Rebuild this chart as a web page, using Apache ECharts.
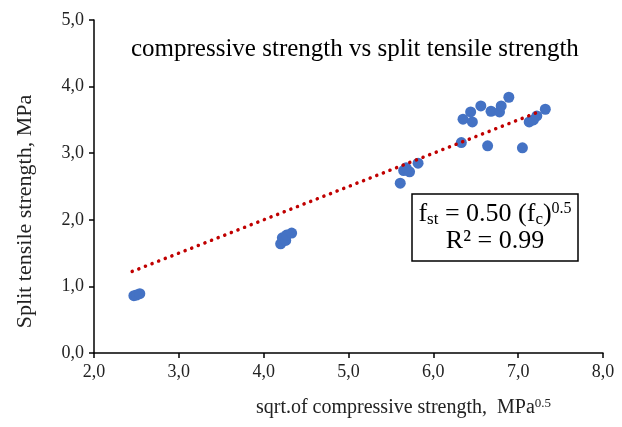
<!DOCTYPE html>
<html>
<head>
<meta charset="utf-8">
<script src="https://cdn.jsdelivr.net/npm/echarts@6/dist/echarts.min.js"></script>
<style>
  html, body { margin: 0; padding: 0; background: #fff; }
  #chart { width: 622px; height: 427px; }
</style>
</head>
<body>
<div id="chart"></div>
<script>
// sqrt of compressive strength (MPa^0.5) and split tensile strength (MPa)
const sqrtFc = [
  2.47, 2.50, 2.54,
  4.20, 4.22, 4.26, 4.27, 4.33,
  5.61, 5.65, 5.68, 5.72, 5.82,
  6.33, 6.35, 6.44, 6.46, 6.56, 6.64, 6.68, 6.78, 6.80, 6.89,
  7.05, 7.13, 7.18, 7.22, 7.32
];
const fst = [
  0.86, 0.87, 0.89,
  1.64, 1.73, 1.69, 1.77, 1.80,
  2.55, 2.74, 2.78, 2.72, 2.85,
  3.16, 3.51, 3.62, 3.47, 3.71, 3.11, 3.63, 3.62, 3.71, 3.84,
  3.08, 3.47, 3.50, 3.56, 3.66
];
// trend line fst = 0.50 * sqrt(fc)
const trendX = [2.45, 7.25];
const trendK = 0.50;

const serif = "'Liberation Serif', 'DejaVu Serif', serif";
const comma = v => v.toFixed(1).replace('.', ',');

const chart = echarts.init(document.getElementById('chart'), null, { renderer: 'canvas' });

chart.setOption({
  animation: false,
  title: {
    text: 'compressive strength vs split tensile strength',
    left: 126,
    top: 32,
    textStyle: { fontFamily: serif, fontSize: 25, fontWeight: 'normal', color: '#000' }
  },
  grid: { left: 94, right: 19, top: 20, bottom: 74 },
  xAxis: {
    type: 'value',
    min: 2, max: 8, interval: 1,
    splitLine: { show: false },
    axisLine: { lineStyle: { color: '#000', width: 1.5 } },
    axisTick: { lineStyle: { color: '#000', width: 1.5 }, length: 5 },
    axisLabel: { formatter: comma, fontFamily: serif, fontSize: 18, color: '#222', margin: 10 },
    name: '{n|sqrt.of compressive strength,  MPa}{s|0.5}',
    nameLocation: 'middle',
    nameGap: 44,
    nameTextStyle: {
      padding: [0, 0, 0, 110],
      rich: {
        n: { fontFamily: serif, fontSize: 20, color: '#222' },
        s: { fontFamily: serif, fontSize: 13, color: '#222', verticalAlign: 'top', padding: [0, 0, 8, 0] }
      }
    }
  },
  yAxis: {
    type: 'value',
    min: 0, max: 5, interval: 1,
    splitLine: { show: false },
    axisLine: { show: true, lineStyle: { color: '#000', width: 1.5 } },
    axisTick: { show: true, lineStyle: { color: '#000', width: 1.5 }, length: 5 },
    axisLabel: { formatter: comma, fontFamily: serif, fontSize: 18, color: '#222', margin: 10 },
    name: 'Split tensile strength, MPa',
    nameLocation: 'middle',
    nameGap: 58,
    nameTextStyle: { fontFamily: serif, fontSize: 22, color: '#222', padding: [0, 50, 0, 0] }
  },
  series: [
    {
      type: 'scatter',
      data: sqrtFc.map((x, i) => [x, fst[i]]),
      symbolSize: 11,
      itemStyle: { color: '#4472C4', opacity: 1 },
      z: 3
    },
    {
      type: 'line',
      data: trendX.map(x => [x, trendK * x]),
      symbol: 'none',
      lineStyle: { color: '#C00000', width: 3.5, type: [0.1, 7], cap: 'round' },
      z: 4
    }
  ],
  graphic: [
    {
      type: 'rect',
      shape: { x: 412, y: 194, width: 166, height: 67 },
      style: { fill: '#fff', stroke: '#000', lineWidth: 1.5 },
      z: 10
    },
    {
      type: 'text',
      x: 495, y: 201,
      style: {
        text: '{m|f}{b|st}{m| = 0.50 (f}{b|c}{m|)}{p|0.5}\n{m|R² = 0.99}',
        align: 'center',
        lineHeight: 27,
        rich: {
          m: { fontFamily: serif, fontSize: 26, color: '#000', lineHeight: 27 },
          b: { fontFamily: serif, fontSize: 17, color: '#000', verticalAlign: 'bottom', lineHeight: 27, padding: [8, 0, 0, 0] },
          p: { fontFamily: serif, fontSize: 16, color: '#000', verticalAlign: 'top', lineHeight: 27 }
        }
      },
      z: 11
    }
  ]
});
</script>
</body>
</html>
